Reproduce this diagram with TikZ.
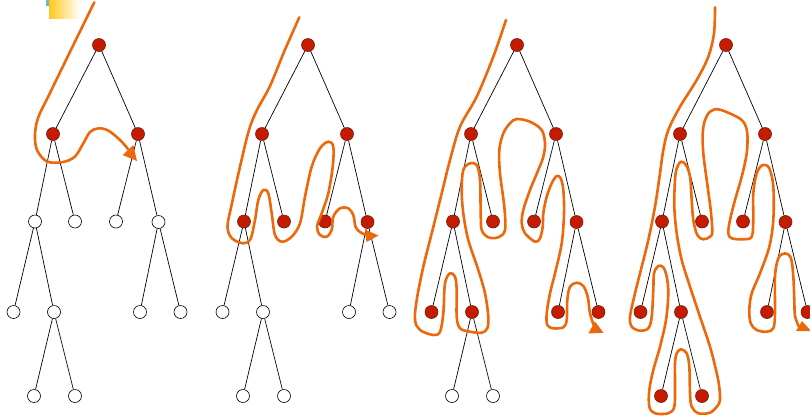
\documentclass[tikz,border=0pt]{standalone}
\definecolor{nodered}{RGB}{196,28,0}
\definecolor{noderim}{RGB}{118,22,12}
\definecolor{trace}{RGB}{236,104,10}
\definecolor{tealtab}{RGB}{110,185,195}
\definecolor{goldtab}{RGB}{255,200,30}
\tikzset{
  vtx/.style={circle, minimum size=13pt, inner sep=0pt, line width=0.6pt},
  redn/.style={vtx, fill=nodered, draw=noderim},
  whiten/.style={vtx, fill=white, draw=black},
  lv/.code={\ifnum#1<\filldepth\relax\tikzset{redn}\else\tikzset{whiten}\fi},
  branch/.style={draw=black, line width=0.7pt},
  walk/.style={draw=trace, line width=2.6pt, line cap=round, line join=round},
  walktip/.style={fill=trace},
}
% binary tree: #1 horizontal offset, #2 name prefix, #3 number of visited levels
\newcommand\bintree[3]{%
  \def\filldepth{#3}%
  \begin{scope}[xshift=#1]
    \node[lv=0] (#2)      at (99,45)    {};
    \node[lv=1] (#2l)     at (53,134)   {};
    \node[lv=1] (#2r)     at (138,134)  {};
    \node[lv=2] (#2ll)    at (35,221.5) {};
    \node[lv=2] (#2lr)    at (75,221.5) {};
    \node[lv=2] (#2rl)    at (116,221.5){};
    \node[lv=2] (#2rr)    at (158.5,222){};
    \node[lv=3] (#2lll)   at (13.5,312) {};
    \node[lv=3] (#2llr)   at (54,312)   {};
    \node[lv=3] (#2rrl)   at (140,312)  {};
    \node[lv=3] (#2rrr)   at (180.5,312){};
    \node[lv=4] (#2llrl)  at (34,396)   {};
    \node[lv=4] (#2llrr)  at (75,396)   {};
    \draw[branch] (#2) -- (#2l) (#2) -- (#2r)
      (#2l) -- (#2ll) (#2l) -- (#2lr) (#2r) -- (#2rl) (#2r) -- (#2rr)
      (#2ll) -- (#2lll) (#2ll) -- (#2llr) (#2rr) -- (#2rrl) (#2rr) -- (#2rrr)
      (#2llr) -- (#2llrl) (#2llr) -- (#2llrr);
  \end{scope}}
\begin{document}
\begin{tikzpicture}[x=1pt, y=-1pt]
  \useasboundingbox (0,0) rectangle (810,416);
  % corner tab
  \fill[tealtab] (46,0) rectangle (49,5.7);
  \shade[left color=goldtab, right color=white] (49,0) rectangle (80,18.5);

  \bintree{0}{A}{2}
  \bintree{209}{B}{3}
  \bintree{418}{C}{4}
  \bintree{627}{D}{5}

  % traversal of the first tree
  \draw[walk] plot[smooth, tension=0.55] coordinates {
    (94.3,2.3) (70.9,50) (48.5,96) (38,118) (35,135) (37,150) (47,161.5)
    (63,162) (75,156.5) (83.5,143) (90,132) (98.5,128.3) (108.5,130.7)
    (120,140) (128,149)};
  \fill[walktip] (122.7,155) -- (133.3,145) -- (137,161) -- cycle;

  % traversal of the second tree
  \draw[walk] plot[smooth, tension=0.55] coordinates {
    (299.3,17.3) (284,52) (270,86) (257,110) (249,130) (240,166.7)
    (232,203) (227.5,226.7) (232,238.3) (243.3,243.3) (250.5,239)
    (255,220) (258.3,200) (263.3,190) (268.3,193.3) (271.7,213.3)
    (275,235) (282,241.7) (291.7,236.7) (300,223.3) (305,196.7)
    (311.7,166.7) (320,148.3) (328.3,141.7) (333.3,146.7) (332.7,166.7)
    (328.3,193.3) (321.7,213.3) (317,226.7) (320,235) (326.7,236.7)
    (331.7,230) (333.3,216.7) (340,208.3) (348.3,208.3) (353.3,215)
    (355.5,226.7) (360,232) (367,235.5)};
  \fill[walktip] (365,229.5) -- (366.5,242) -- (378.5,235.5) -- cycle;

  % traversal of the third tree
  \draw[walk] plot[smooth, tension=0.55] coordinates {
    (506,20) (493.3,56.7) (476.7,96.7) (460,126.7) (450,160) (441.7,193.3)
    (431.7,233.3) (423.3,266.7) (416.7,300) (415,320) (420,330)
    (433.3,335) (440,331.7) (443.3,313.3) (445,283.3) (450,273.3)
    (455,276.7) (456.7,290) (456.7,316.7) (460,328.3) (470,331.7)
    (481.7,332.7) (487.3,328.3) (488.3,316.7) (485,293.3) (478.3,270)
    (468.3,240) (463.3,213.3) (461.7,190) (463.3,170) (470,163.3)
    (476.7,165) (480,180) (480.7,213.3) (481.7,230) (488.3,237.3)
    (498.3,237.3) (505,230) (504.3,206.7) (500,173.3) (499.3,150)
    (503.3,133.3) (510,123.3) (516.7,119) (530,121.7) (541.7,130)
    (545,143.3) (543.3,156.7) (538.3,170) (530,190) (523.3,210)
    (521.7,223.3) (525,233.3) (535,241.7) (540,238.3) (542.7,226.7)
    (543.3,213.3) (546.7,196.7) (551.7,183.3) (556.7,176) (560.7,178.3)
    (563.3,190) (564,213.3) (561.7,243.3) (555,273.3) (550,293.3)
    (546.7,313.3) (547.3,325) (553.3,328.3) (563.3,327.3) (566.7,320)
    (567.3,300) (570,286.7) (576.7,282.7) (583.3,286) (587.7,296.7)
    (590,313.3) (594,326)};
  \fill[walktip] (588.3,333.5) -- (595,321.5) -- (603.5,332.8) -- cycle;

  % traversal of the fourth tree
  \draw[walk] plot[smooth, tension=0.55] coordinates {
    (715,7.3) (714,33.3) (708.3,56.7) (696.7,80) (680,106.7) (668.3,130)
    (663.3,150) (660,173.3) (655,206.7) (648.3,240) (641.7,266.7)
    (635,293.3) (630,316.7) (631.7,326.7) (640,330.7) (648.3,328.3)
    (651.7,316.7) (653.3,290) (654,273.3) (658.3,266) (663.3,267.3)
    (666.7,276.7) (668.3,293.3) (666,320) (660,346.7) (653.3,370)
    (649.3,390) (649.3,406.7) (655,413.3) (668.3,413.3) (674.3,406.7)
    (675,386.7) (675,363.3) (676.7,353.3) (681,349.3) (686.7,353.3)
    (689.3,366.7) (690,393.3) (691.7,406.7) (698.3,413.3) (710,412.7)
    (717.3,406) (720,400) (719,385) (716,370) (710,346.7) (700,316.7)
    (690,286.7) (681.7,260) (676.7,233.3) (674.3,206.7) (675,180)
    (676.7,168.3) (681,161.7) (686,165) (690,176.7) (691.7,200)
    (693.3,220) (697.3,235) (703.3,239.3) (710,236.7) (712.3,231.7)
    (710.7,210) (706.7,180) (703.3,153.3) (702.7,133.3) (705,120)
    (710,111.7) (718.3,109.3) (733.3,115) (743.3,121.7) (747.3,133.3)
    (746.7,153.3) (741.7,176.7) (735,200) (730,220) (728.3,233.3)
    (731.7,238.3) (743.3,239.3) (751.7,236.7) (753.3,220) (753.3,193.3)
    (756.7,173.3) (762.7,165) (769.3,168.3) (773.3,186.7) (773.3,220)
    (769.3,246.7) (760,273.3) (751.7,293.3) (749.3,310) (750.7,323.3)
    (756.7,330) (766.7,331.7) (773.3,328.3) (775,313.3) (775,276.7)
    (778.3,258.3) (785,253.3) (791,258.3) (793.3,276.7) (794.3,300)
    (795,316) (799,327)};
  \fill[walktip] (796,331) -- (802,321) -- (811,331) -- cycle;
\end{tikzpicture}
\end{document}
